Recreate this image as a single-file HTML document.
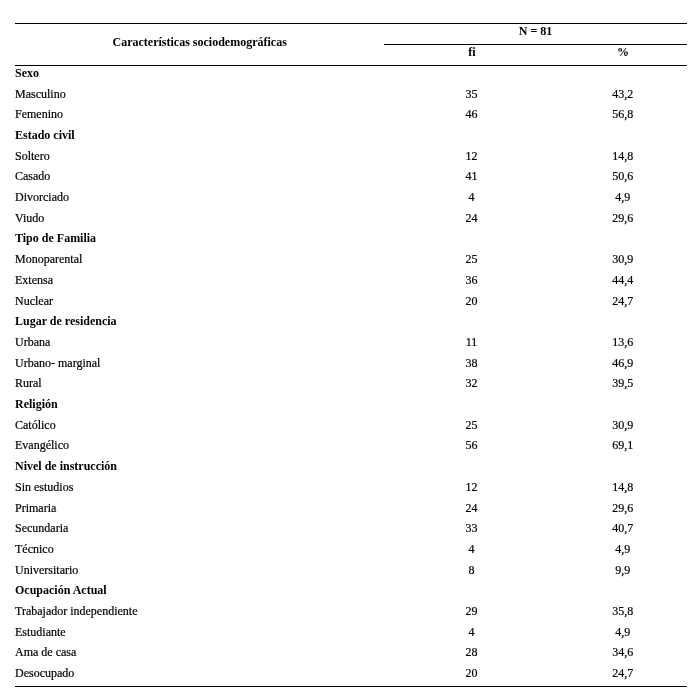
<!DOCTYPE html>
<html lang="es"><head><meta charset="utf-8"><title>Tabla</title>
<style>
html,body{margin:0;padding:0;background:#fff;}
body{width:696px;height:697px;position:relative;overflow:hidden;font-family:"Liberation Serif","Times New Roman",serif;font-size:12px;color:#000;}
.ln{position:absolute;height:1px;background:#000;}
.t{-webkit-text-stroke:0.2px #000;position:absolute;white-space:nowrap;line-height:16px;height:16px;}
.b{font-weight:bold;-webkit-text-stroke:0;}
.c{text-align:center;width:80px;}
</style></head><body>
<div class="ln" style="left:15px;top:23px;width:672px"></div>
<div class="ln" style="left:384px;top:44px;width:303px"></div>
<div class="ln" style="left:15px;top:65px;width:672px"></div>
<div class="ln" style="left:15px;top:686px;width:672px"></div>
<div class="t b c" style="left:49.69999999999999px;top:34px;width:300px">Características sociodemográficas</div>
<div class="t b c" style="left:495.5px;top:23px">N = 81</div>
<div class="t b c" style="left:432px;top:43.6px">fi</div>
<div class="t b c" style="left:583px;top:43.6px">%</div>
<div class="t b" style="left:15px;top:64.90px">Sexo</div>
<div class="t" style="left:15px;top:85.59px">Masculino</div>
<div class="t c" style="left:431.5px;top:85.59px">35</div>
<div class="t c" style="left:582.8px;top:85.59px">43,2</div>
<div class="t" style="left:15px;top:106.28px">Femenino</div>
<div class="t c" style="left:431.5px;top:106.28px">46</div>
<div class="t c" style="left:582.8px;top:106.28px">56,8</div>
<div class="t b" style="left:15px;top:126.97px">Estado civil</div>
<div class="t" style="left:15px;top:147.66px">Soltero</div>
<div class="t c" style="left:431.5px;top:147.66px">12</div>
<div class="t c" style="left:582.8px;top:147.66px">14,8</div>
<div class="t" style="left:15px;top:168.35px">Casado</div>
<div class="t c" style="left:431.5px;top:168.35px">41</div>
<div class="t c" style="left:582.8px;top:168.35px">50,6</div>
<div class="t" style="left:15px;top:189.04px">Divorciado</div>
<div class="t c" style="left:431.5px;top:189.04px">4</div>
<div class="t c" style="left:582.8px;top:189.04px">4,9</div>
<div class="t" style="left:15px;top:209.73px">Viudo</div>
<div class="t c" style="left:431.5px;top:209.73px">24</div>
<div class="t c" style="left:582.8px;top:209.73px">29,6</div>
<div class="t b" style="left:15px;top:230.42px">Tipo de Familia</div>
<div class="t" style="left:15px;top:251.11px">Monoparental</div>
<div class="t c" style="left:431.5px;top:251.11px">25</div>
<div class="t c" style="left:582.8px;top:251.11px">30,9</div>
<div class="t" style="left:15px;top:271.80px">Extensa</div>
<div class="t c" style="left:431.5px;top:271.80px">36</div>
<div class="t c" style="left:582.8px;top:271.80px">44,4</div>
<div class="t" style="left:15px;top:293.09px">Nuclear</div>
<div class="t c" style="left:431.5px;top:293.09px">20</div>
<div class="t c" style="left:582.8px;top:293.09px">24,7</div>
<div class="t b" style="left:15px;top:313.18px">Lugar de residencia</div>
<div class="t" style="left:15px;top:333.87px">Urbana</div>
<div class="t c" style="left:431.5px;top:333.87px">11</div>
<div class="t c" style="left:582.8px;top:333.87px">13,6</div>
<div class="t" style="left:15px;top:354.56px">Urbano- marginal</div>
<div class="t c" style="left:431.5px;top:354.56px">38</div>
<div class="t c" style="left:582.8px;top:354.56px">46,9</div>
<div class="t" style="left:15px;top:375.25px">Rural</div>
<div class="t c" style="left:431.5px;top:375.25px">32</div>
<div class="t c" style="left:582.8px;top:375.25px">39,5</div>
<div class="t b" style="left:15px;top:395.94px">Religión</div>
<div class="t" style="left:15px;top:416.63px">Católico</div>
<div class="t c" style="left:431.5px;top:416.63px">25</div>
<div class="t c" style="left:582.8px;top:416.63px">30,9</div>
<div class="t" style="left:15px;top:437.32px">Evangélico</div>
<div class="t c" style="left:431.5px;top:437.32px">56</div>
<div class="t c" style="left:582.8px;top:437.32px">69,1</div>
<div class="t b" style="left:15px;top:458.01px">Nivel de instrucción</div>
<div class="t" style="left:15px;top:478.70px">Sin estudios</div>
<div class="t c" style="left:431.5px;top:478.70px">12</div>
<div class="t c" style="left:582.8px;top:478.70px">14,8</div>
<div class="t" style="left:15px;top:499.99px">Primaria</div>
<div class="t c" style="left:431.5px;top:499.99px">24</div>
<div class="t c" style="left:582.8px;top:499.99px">29,6</div>
<div class="t" style="left:15px;top:520.08px">Secundaria</div>
<div class="t c" style="left:431.5px;top:520.08px">33</div>
<div class="t c" style="left:582.8px;top:520.08px">40,7</div>
<div class="t" style="left:15px;top:540.77px">Técnico</div>
<div class="t c" style="left:431.5px;top:540.77px">4</div>
<div class="t c" style="left:582.8px;top:540.77px">4,9</div>
<div class="t" style="left:15px;top:562.06px">Universitario</div>
<div class="t c" style="left:431.5px;top:562.06px">8</div>
<div class="t c" style="left:582.8px;top:562.06px">9,9</div>
<div class="t b" style="left:15px;top:582.15px">Ocupación Actual</div>
<div class="t" style="left:15px;top:602.84px">Trabajador independiente</div>
<div class="t c" style="left:431.5px;top:602.84px">29</div>
<div class="t c" style="left:582.8px;top:602.84px">35,8</div>
<div class="t" style="left:15px;top:623.53px">Estudiante</div>
<div class="t c" style="left:431.5px;top:623.53px">4</div>
<div class="t c" style="left:582.8px;top:623.53px">4,9</div>
<div class="t" style="left:15px;top:644.22px">Ama de casa</div>
<div class="t c" style="left:431.5px;top:644.22px">28</div>
<div class="t c" style="left:582.8px;top:644.22px">34,6</div>
<div class="t" style="left:15px;top:664.91px">Desocupado</div>
<div class="t c" style="left:431.5px;top:664.91px">20</div>
<div class="t c" style="left:582.8px;top:664.91px">24,7</div>
</body></html>
